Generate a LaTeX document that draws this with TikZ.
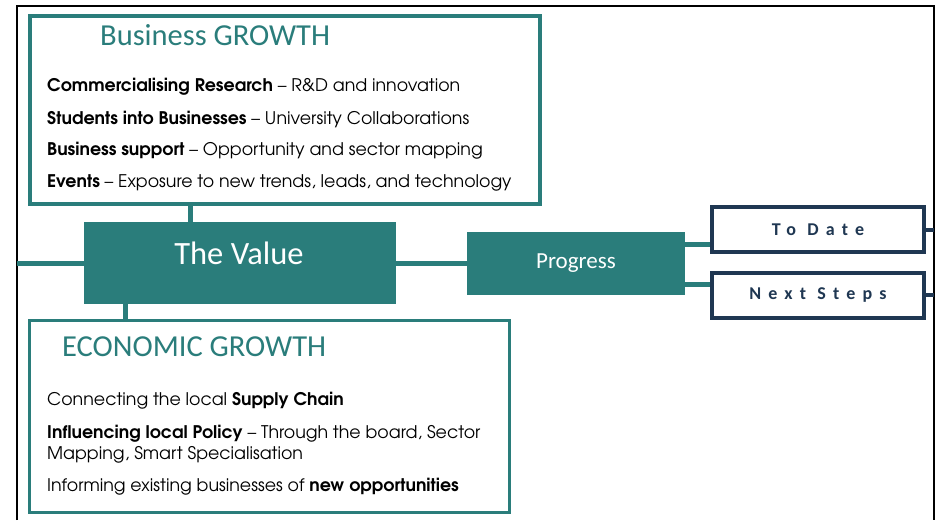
\documentclass[tikz,border=0pt]{standalone}
\usepackage{fontspec}
\setmainfont{Carlito}
\newfontfamily\tagfont[LetterSpace=40]{Carlito}
\newfontfamily\bodyfont[Extension = .otf, UprightFont = *-regular, BoldFont = *-bold]{texgyreadventor}
\usetikzlibrary{positioning}

\definecolor{valueteal}{HTML}{2A7D7B}
\definecolor{stepnavy}{HTML}{1F3752}

\tikzset{
	growthbox/.style = {draw = valueteal, line width = 3.5pt, fill = white},
	valuebox/.style = {fill = valueteal, text = white, inner sep = 0pt},
	stepbox/.style = {draw = stepnavy, line width = 4pt, fill = white,
		minimum width = 212pt, minimum height = 45pt, text = stepnavy,
		font = \tagfont\bfseries\fontsize{18}{21}\selectfont},
	headtext/.style = {anchor = west, text = valueteal, inner sep = 0pt,
		font = \fontsize{30.5}{36}\selectfont},
	itemtext/.style = {anchor = west, inner sep = 0pt, align = left,
		font = \bodyfont\fontsize{17.4}{21}\selectfont},
	link/.style = {draw = valueteal, line width = 5pt},
	steplink/.style = {draw = stepnavy, line width = 4pt}
}

\begin{document}
\begin{tikzpicture}[x = 1pt, y = -1pt]

	\useasboundingbox (0, 0) rectangle (937, 520);
	
	% The frame
	
	\coordinate (frameNW) at (17, 6);
	\coordinate (frameNE) at (934, 6);
	\draw [line width = 2pt] (17, 520) -- (frameNW) -- (frameNE) -- (934, 520);
	
	% Business growth
	
	\node [growthbox, minimum width = 510pt, minimum height = 188pt] (business) at (285, 110) {};
	\node [headtext] (businesstitle) at (100, 35) {Business GROWTH};
	\node [itemtext] (research) at (47, 87) {\textbf{Commercialising Research} – R\&D and innovation};
	\node [itemtext] (students) at (47, 119) {\textbf{Students into Businesses} – University Collaborations};
	\node [itemtext] (support) at (47, 151) {\textbf{Business support} – Opportunity and sector mapping};
	\node [itemtext] (events) at (47, 183) {\textbf{Events} – Exposure to new trends, leads, and technology};
	
	% The value and progress
	
	\node [valuebox, minimum width = 312pt, minimum height = 82pt] (value) at (240, 263) {};
	\node [text = white, font = \fontsize{32.5}{38}\selectfont] (valuetitle) at (239, 253) {The Value};
	\node [valuebox, minimum width = 218pt, minimum height = 63pt,
		font = \fontsize{23}{27}\selectfont] (progress) at (576, 263) {Progress};
	
	% Economic growth
	
	\node [growthbox, minimum width = 480pt, minimum height = 192pt] (economic) at (269.5, 416.5) {};
	\node [headtext] (economictitle) at (62, 347) {ECONOMIC GROWTH};
	\node [itemtext] (supply) at (47, 401) {Connecting the local \textbf{Supply Chain}};
	\node [itemtext] (policy) at (47, 444) {\textbf{Influencing local Policy} – Through the board, Sector\\Mapping, Smart Specialisation};
	\node [itemtext] (informing) at (47, 487) {Informing existing businesses of \textbf{new opportunities}};
	
	% To date and next steps
	
	\node [stepbox] (todate) at (818, 229.5) {To Date};
	\node [stepbox] (nextsteps) at (818, 295) {Next Steps};
	
	% Connectors
	
	\coordinate (upstub) at (190, 0);
	\coordinate (downstub) at (125, 0);
	\coordinate (toline) at (0, 244);
	\coordinate (nextline) at (0, 284);
	
	\draw [link] (business.south -| upstub) -- (value.north -| upstub);
	\draw [link] (value.south -| downstub) -- (economic.north -| downstub);
	\draw [link] (value.west -| frameNW) -- (value.west);
	\draw [link] (value.east) -- (value.east -| progress.west);
	\draw [link] (progress.east |- toline) -- (todate.west |- toline);
	\draw [link] (progress.east |- nextline) -- (nextsteps.west |- nextline);
	\draw [steplink] (todate.east) -- (todate.east -| frameNE);
	\draw [steplink] (nextsteps.east) -- (nextsteps.east -| frameNE);

\end{tikzpicture}
\end{document}
